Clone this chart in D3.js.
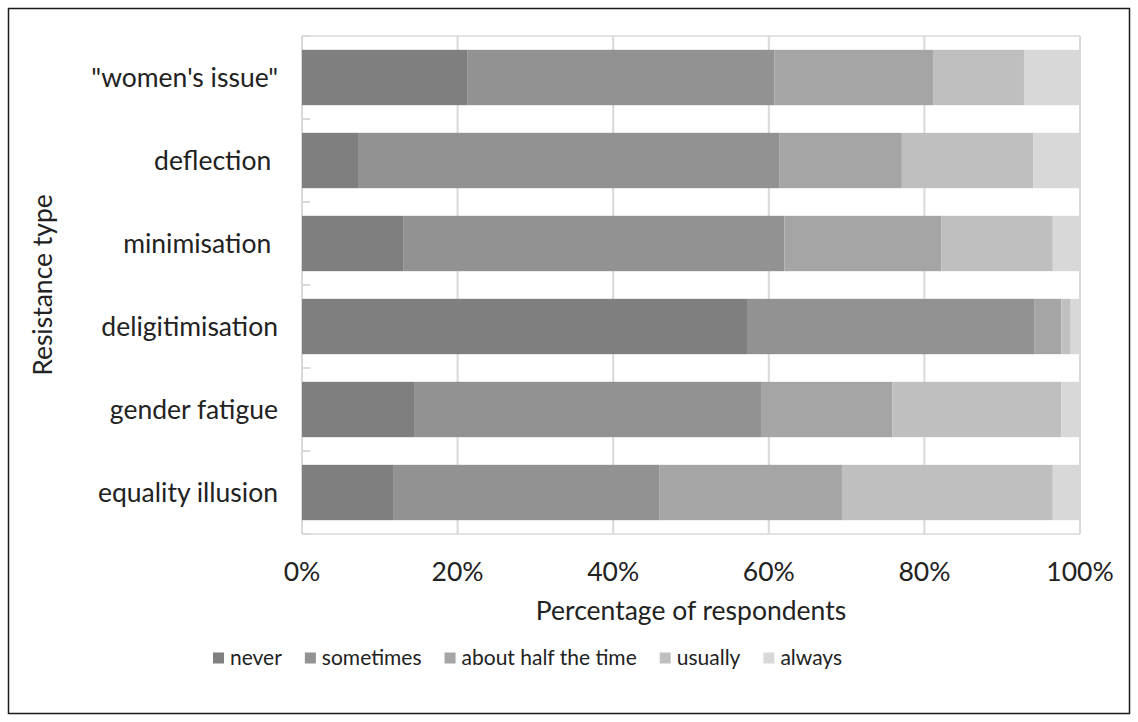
<!DOCTYPE html>
<html>
<head>
<meta charset="utf-8">
<script src="https://cdn.jsdelivr.net/npm/d3@7"></script>
<style>
  html, body { margin: 0; padding: 0; background: #fff; }
  svg { display: block; font-family: Lato, "Open Sans", sans-serif; }
  text { fill: #222; white-space: pre; font-size: 26.5px; }
  .legend text { font-size: 21px; }
</style>
</head>
<body>
<svg id="chart" width="1138" height="722"></svg>
<script>
// Resistance types, top to bottom
const categories = ['"women\'s issue"', 'deflection ', 'minimisation ', 'deligitimisation', 'gender fatigue', 'equality illusion'];

// Response frequency levels (stack order, left to right)
const levels = ['never', 'sometimes', 'about half the time', 'usually', 'always'];

// Share of respondents (%) per resistance type, one array per level
const never      = [21.3,  7.2, 13.0, 57.2, 14.5, 11.8];
const sometimes  = [39.4, 54.2, 49.0, 36.9, 44.6, 34.1];
const halfTime   = [20.4, 15.7, 20.2,  3.5, 16.8, 23.5];
const usually    = [11.7, 16.9, 14.3,  1.2, 21.7, 27.1];
const always     = [ 7.2,  6.0,  3.5,  1.2,  2.4,  3.5];

const xTicks = [0, 0.2, 0.4, 0.6, 0.8, 1.0];

const colors = ['#7f7f7f', '#929292', '#a5a5a5', '#bfbfbf', '#d8d8d8'];

const seriesValues = [never, sometimes, halfTime, usually, always];
const rows = categories.map((c, i) => {
  const r = { category: c };
  levels.forEach((l, j) => { r[l] = seriesValues[j][i]; });
  return r;
});

const stack = d3.stack().keys(levels).offset(d3.stackOffsetExpand);
const stacked = stack(rows);

const svg = d3.select('#chart');
const W = 1138, H = 722;

// Outer chart frame
svg.append('rect')
  .attr('x', 8.5).attr('y', 8.5)
  .attr('width', W - 17).attr('height', H - 17)
  .attr('fill', '#fff').attr('stroke', '#1a1a1a').attr('stroke-width', 1.5);

const plot = { left: 302, right: 1080, top: 36, bottom: 534 };

const x = d3.scaleLinear().domain([0, 1]).range([plot.left, plot.right]);
const y = d3.scaleBand().domain(categories)
  .range([plot.top, plot.bottom])
  .paddingInner(0.333).paddingOuter(0.1665);

const gridColor = '#d9d9d9';

// Vertical gridlines
svg.append('g').selectAll('line').data(xTicks).join('line')
  .attr('x1', d => x(d)).attr('x2', d => x(d))
  .attr('y1', plot.top).attr('y2', plot.bottom)
  .attr('stroke', gridColor).attr('stroke-width', 2);

// Plot border lines (top and bottom)
[plot.top, plot.bottom].forEach(yy => {
  svg.append('line')
    .attr('x1', plot.left).attr('x2', plot.right)
    .attr('y1', yy).attr('y2', yy)
    .attr('stroke', gridColor).attr('stroke-width', 1.5);
});

// Category tick marks at band boundaries
const step = y.step();
const half = step * y.paddingInner() / 2;
const boundaries = categories.map(c => y(c) - half)
  .concat([y(categories[categories.length - 1]) + y.bandwidth() + half]);
svg.append('g').selectAll('line').data(boundaries).join('line')
  .attr('x1', plot.left).attr('x2', plot.left + 8)
  .attr('y1', d => d).attr('y2', d => d)
  .attr('stroke', gridColor).attr('stroke-width', 2);

// Stacked bars
svg.append('g').selectAll('g').data(stacked).join('g')
  .attr('fill', (d, i) => colors[i])
  .selectAll('rect').data(d => d).join('rect')
  .attr('x', d => x(d[0]))
  .attr('width', d => x(d[1]) - x(d[0]))
  .attr('y', d => y(d.data.category))
  .attr('height', y.bandwidth());

// Category labels
svg.append('g').selectAll('text').data(categories).join('text')
  .attr('x', 278)
  .attr('y', d => y(d) + y.bandwidth() / 2)
  .attr('dy', '0.35em')
  .attr('text-anchor', 'end')
  .text(d => d);

// X tick labels
svg.append('g').selectAll('text').data(xTicks).join('text')
  .attr('x', d => x(d))
  .attr('y', 581)
  .attr('text-anchor', 'middle')
  .text(d => d3.format('.0%')(d));

// Axis titles
svg.append('text')
  .attr('x', (plot.left + plot.right) / 2)
  .attr('y', 620)
  .attr('text-anchor', 'middle')
  .text('Percentage of respondents');

svg.append('text')
  .attr('transform', `translate(52, ${(plot.top + plot.bottom) / 2}) rotate(-90)`)
  .attr('text-anchor', 'middle')
  .text('Resistance type');

// Legend, laid out left to right
const legend = svg.append('g').attr('class', 'legend');
const ly = 658, key = 11, keyGap = 6, itemGap = 23;
let lx = 213;
levels.forEach((l, i) => {
  legend.append('rect')
    .attr('x', lx).attr('y', ly - key / 2)
    .attr('width', key).attr('height', key)
    .attr('fill', colors[i]);
  const t = legend.append('text')
    .attr('x', lx + key + keyGap).attr('y', ly)
    .attr('dy', '0.35em')
    .text(l);
  lx += key + keyGap + t.node().getComputedTextLength() + itemGap;
});
</script>
</body>
</html>
